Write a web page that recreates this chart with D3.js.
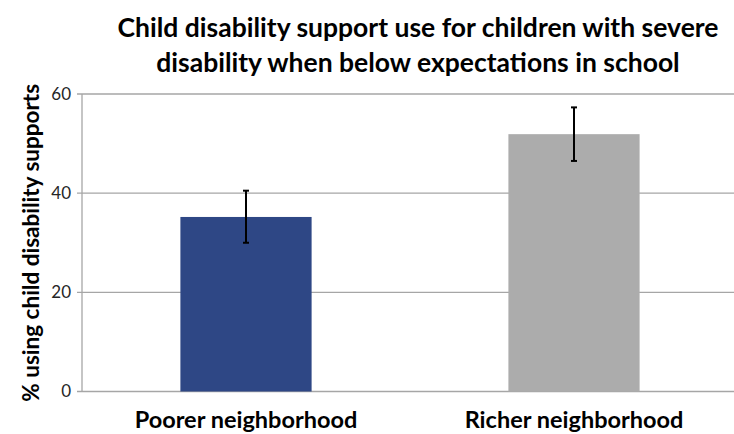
<!DOCTYPE html>
<meta charset="utf-8">
<style>
body { margin: 0; background: #fff; }
text { font-family: Lato, "Open Sans", sans-serif; }
</style>
<body>
<script src="https://d3js.org/d3.v7.min.js"></script>
<script>
var width = 734,
    height = 434;

// data
var categories = ["Poorer neighborhood", "Richer neighborhood"];
var values = [35.2, 51.9];
var errLow = [30.0, 46.5];
var errHigh = [40.5, 57.3];
var colors = ["#2e4785", "#acacac"];
var yTicks = [0, 20, 40, 60];
var titleLines = ["Child disability support use for children with severe",
                  "disability when below expectations in school"];

var margin = {left: 82, right: -4, top: 94, bottom: 434 - 391.5};

var svg = d3.select("body").append("svg")
    .attr("width", width)
    .attr("height", height);

var x = d3.scaleBand()
    .domain(categories)
    .range([margin.left, width - margin.right])
    .paddingInner(0.6)
    .paddingOuter(0.3);

var y = d3.scaleLinear()
    .domain([0, 60])
    .range([height - margin.bottom, margin.top]);

// gridlines + ticks
var grid = svg.append("g");
grid.selectAll("line")
    .data(yTicks)
    .enter().append("line")
      .attr("x1", margin.left - 5)
      .attr("x2", width)
      .attr("y1", function(d) { return y(d); })
      .attr("y2", function(d) { return y(d); })
      .style("stroke", "#a6a6a6")
      .style("stroke-width", 1.3);

grid.append("line")
    .attr("x1", margin.left).attr("x2", margin.left)
    .attr("y1", y(60)).attr("y2", y(0))
    .style("stroke", "#a6a6a6")
    .style("stroke-width", 1.3);

grid.selectAll("text")
    .data(yTicks)
    .enter().append("text")
      .attr("x", 71)
      .attr("y", function(d) { return y(d); })
      .attr("dy", "0.35em")
      .attr("text-anchor", "end")
      .style("font-size", "17px")
      .style("fill", "#262626")
      .text(function(d) { return d; });

// bars
svg.append("g").selectAll("rect")
    .data(values)
    .enter().append("rect")
      .attr("x", function(d, i) { return x(categories[i]); })
      .attr("width", x.bandwidth())
      .attr("y", function(d) { return y(d); })
      .attr("height", function(d) { return y(0) - y(d); })
      .style("fill", function(d, i) { return colors[i]; });

// error bars
var eb = svg.append("g").style("stroke", "#000").style("stroke-width", 2);
categories.forEach(function(c, i) {
  var cx = x(c) + x.bandwidth() / 2;
  eb.append("line")
    .attr("x1", cx).attr("x2", cx)
    .attr("y1", y(errLow[i])).attr("y2", y(errHigh[i]));
  eb.append("line")
    .attr("x1", cx - 3).attr("x2", cx + 3)
    .attr("y1", y(errLow[i])).attr("y2", y(errLow[i]));
  eb.append("line")
    .attr("x1", cx - 3).attr("x2", cx + 3)
    .attr("y1", y(errHigh[i])).attr("y2", y(errHigh[i]));
});

// category labels
svg.append("g").selectAll("text")
    .data(categories)
    .enter().append("text")
      .attr("x", function(d) { return x(d) + x.bandwidth() / 2; })
      .attr("y", 428)
      .attr("text-anchor", "middle")
      .style("font-size", "23.5px")
      .style("font-weight", "bold")
      .text(function(d) { return d; });

// y axis label
svg.append("text")
    .attr("transform", "translate(39," + (y(30)) + ") rotate(-90)")
    .attr("text-anchor", "middle")
    .style("font-size", "22.5px")
    .style("font-weight", "bold")
    .text("% using child disability supports");

// title
svg.append("g").selectAll("text")
    .data(titleLines)
    .enter().append("text")
      .attr("x", 418)
      .attr("y", function(d, i) { return 37 + i * 35; })
      .attr("text-anchor", "middle")
      .style("font-size", "26.5px")
      .style("font-weight", "bold")
      .text(function(d) { return d; });
</script>
</body>
</html>
